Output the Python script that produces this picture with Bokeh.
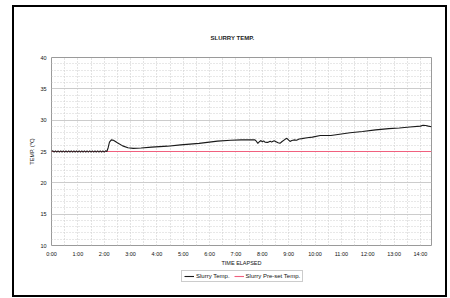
from bokeh.plotting import figure
from bokeh.layouts import column
from bokeh.models import (FixedTicker, Range1d, Legend, LegendItem, InlineStyleSheet)
from bokeh.embed import file_html
from bokeh.resources import INLINE

# ---- data (hours elapsed, deg C) ----
slurry_time = [0.00, 0.05, 0.10, 0.15, 0.20, 0.25, 0.30, 0.35, 0.40, 0.45,
               0.50, 0.55, 0.60, 0.65, 0.70, 0.75, 0.80, 0.85, 0.90, 0.95,
               1.00, 1.05, 1.10, 1.15, 1.20, 1.25, 1.30, 1.35, 1.40, 1.45,
               1.50, 1.55, 1.60, 1.65, 1.70, 1.75, 1.80, 1.85, 1.90, 1.95,
               2.00, 2.05, 2.10, 2.15, 2.20, 2.27, 2.35, 2.50, 2.70, 2.90,
               3.10, 3.40, 3.80, 4.40, 4.90, 5.60, 6.30, 6.80, 7.20, 7.72,
               7.78, 7.83, 7.90, 7.95, 8.00, 8.05, 8.10, 8.20, 8.30, 8.35,
               8.45, 8.50, 8.60, 8.67, 8.75, 8.85, 8.93, 9.00, 9.05, 9.12,
               9.20, 9.30, 9.40, 9.50, 9.70, 9.90, 10.20, 10.60, 11.00, 11.33,
               11.80, 12.30, 12.80, 13.20, 13.60, 14.00, 14.10, 14.20, 14.30, 14.42]
slurry_temp = [25.0, 25.12, 24.88, 25.12, 24.88, 25.12, 24.88, 25.12, 24.88, 25.12,
               24.88, 25.12, 24.88, 25.12, 24.88, 25.12, 24.88, 25.12, 24.88, 25.12,
               24.88, 25.12, 24.88, 25.12, 24.88, 25.12, 24.88, 25.12, 24.88, 25.12,
               24.88, 25.12, 24.88, 25.12, 24.88, 25.12, 24.88, 25.12, 24.88, 25.12,
               24.88, 25.12, 25.0, 25.6, 26.5, 26.85, 26.8, 26.4, 25.9, 25.6,
               25.5, 25.55, 25.7, 25.85, 26.05, 26.3, 26.65, 26.8, 26.85, 26.87,
               26.6, 26.3, 26.6, 26.75, 26.55, 26.7, 26.5, 26.45, 26.65, 26.5,
               26.7, 26.6, 26.4, 26.3, 26.6, 26.9, 27.1, 26.8, 26.6, 26.75,
               26.85, 26.8, 27.0, 27.05, 27.2, 27.3, 27.55, 27.55, 27.8, 28.0,
               28.2, 28.45, 28.65, 28.75, 28.9, 29.05, 29.2, 29.15, 29.05, 28.95]
preset_time = [0.0, 14.42]
preset_temp = [25.0, 25.0]

series_names = ["Slurry Temp.", "Slurry Pre-set Temp."]
x_ticks = list(range(0, 15))
x_tick_labels = [f"{h}:00" for h in x_ticks]
y_ticks = [10, 15, 20, 25, 30, 35, 40]
y_minor = [11, 12, 13, 14, 16, 17, 18, 19, 21, 22, 23, 24, 26, 27, 28, 29,
           31, 32, 33, 34, 36, 37, 38, 39]
x_grid = [h / 2 for h in range(1, 29)]

FONT = "Liberation Sans"
BLACK = "#1a1a1a"
PINK = "#f0607e"

p = figure(width=450, height=270, output_backend="svg", toolbar_location=None,
           x_range=Range1d(0, 14.42), y_range=Range1d(10, 40),
           min_border_left=51, min_border_right=19, min_border_top=57,
           min_border_bottom=25,
           title="SLURRY TEMP.")
p.background_fill_color = "white"
p.border_fill_color = "white"
p.outline_line_color = "#9a9a9a"
p.outline_line_width = 1

p.title.text_font = FONT
p.title.text_font_size = "6px"
p.title.text_font_style = "bold"
p.title.text_color = "#222222"
p.title.align = "left"
p.title.offset = 159
p.title.standoff = 33

# grids
p.xgrid.ticker = FixedTicker(ticks=x_grid)
p.xgrid.grid_line_color = "#c8c8c8"
p.xgrid.grid_line_dash = "1 2"
p.ygrid.ticker = FixedTicker(ticks=y_ticks, minor_ticks=y_minor)
p.ygrid.grid_line_color = "#cccccc"
p.ygrid.minor_grid_line_color = "#d0d0d0"
p.ygrid.minor_grid_line_dash = "1 2"

for ax in (p.xaxis[0], p.yaxis[0]):
    ax.axis_line_color = None
    ax.major_tick_line_color = None
    ax.minor_tick_line_color = None
    ax.major_tick_out = 0
    ax.major_tick_in = 0
    ax.minor_tick_out = 0
    ax.minor_tick_in = 0
    ax.major_label_text_font = FONT
    ax.major_label_text_font_size = "5.5px"
    ax.major_label_text_color = "#111111"
    ax.axis_label_text_font = FONT
    ax.axis_label_text_font_size = "5.5px"
    ax.axis_label_text_font_style = "normal"
    ax.axis_label_text_color = "#111111"

p.xaxis.ticker = FixedTicker(ticks=x_ticks)
p.xaxis.major_label_overrides = {t: l for t, l in zip(x_ticks, x_tick_labels)}
p.xaxis.major_label_standoff = 5
p.xaxis.axis_label = "TIME ELAPSED"
p.xaxis.axis_label_standoff = 0
p.yaxis.ticker = FixedTicker(ticks=y_ticks)
p.yaxis.major_label_standoff = 5
p.yaxis.axis_label = "TEMP. (\u2103)"
p.yaxis.axis_label_standoff = 2

p.line(preset_time, preset_temp, line_color=PINK, line_width=1.1)
p.line(slurry_time, slurry_temp, line_color=BLACK, line_width=1.1)

p.stylesheets = [InlineStyleSheet(css="""
:host { position: relative; }
:host::after {
  content: ""; position: absolute; left: 12px; top: 5px;
  width: 435px; height: 292px; box-sizing: border-box;
  border: 2px solid #000; pointer-events: none; z-index: 100;
}
""")]

# legend strip below the chart (its own small figure, no axes)
lf = figure(width=450, height=28, output_backend="svg", toolbar_location=None,
            x_range=Range1d(0, 1), y_range=Range1d(0, 1), min_border=0,
            x_axis_location=None, y_axis_location=None)
lf.grid.visible = False
lf.outline_line_color = None
lf.background_fill_color = "white"
lf.border_fill_color = "white"
g1 = lf.line([5, 6], [5, 6], line_color=BLACK, line_width=1.1)
g2 = lf.line([5, 6], [5, 6], line_color=PINK, line_width=1.1)
legend = Legend(items=[LegendItem(label=series_names[0], renderers=[g1]),
                       LegendItem(label=series_names[1], renderers=[g2])],
                orientation="horizontal", location=(130, 16),
                label_text_font=FONT, label_text_font_size="6px",
                label_text_color="#111111", label_height=6, label_standoff=2,
                glyph_width=10, glyph_height=6, spacing=4, padding=2, margin=0,
                border_line_color="#9a9a9a", border_line_width=1)
lf.add_layout(legend, "center")

layout = column(p, lf, spacing=0)
open("out.html", "w").write(file_html(layout, INLINE))
